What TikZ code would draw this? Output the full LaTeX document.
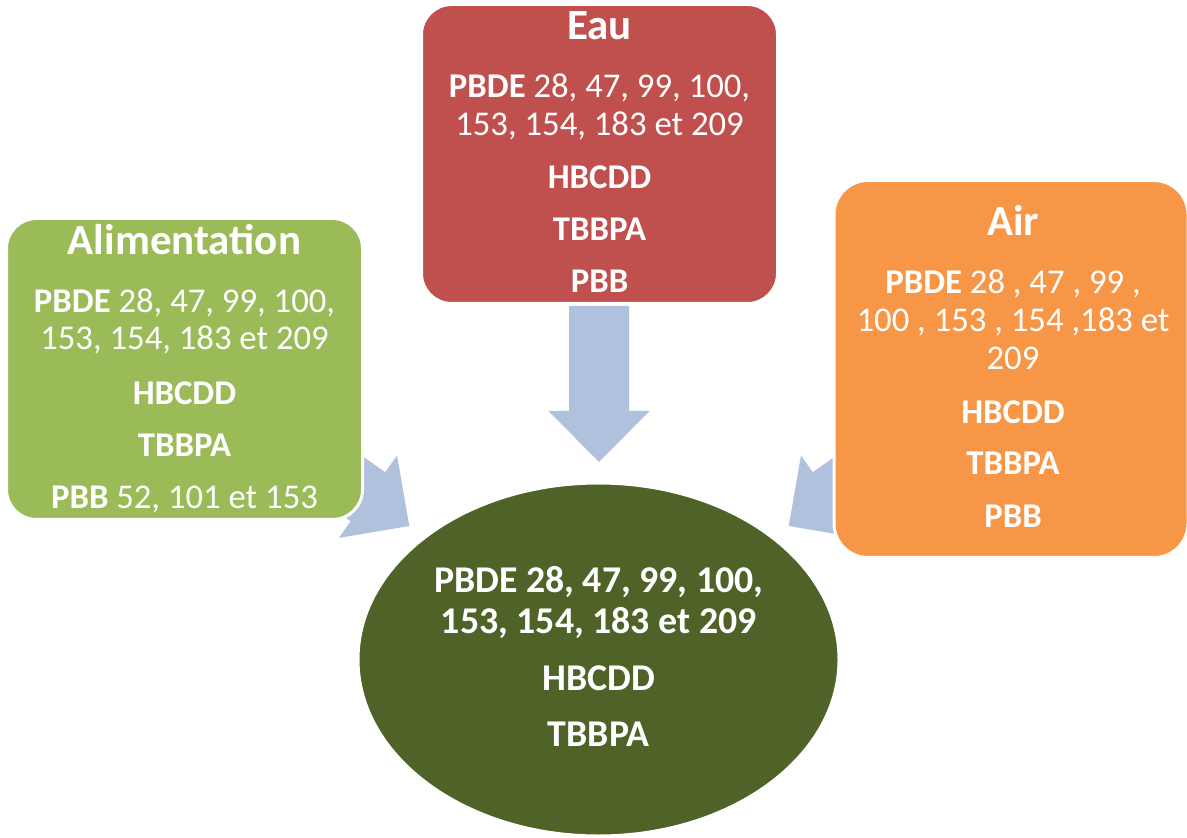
\documentclass[tikz,border=0pt]{standalone}
\usepackage{fontspec}
\setmainfont{Carlito}
\usetikzlibrary{shapes.geometric}
\definecolor{cgreen}{HTML}{9BBB59}
\definecolor{cred}{HTML}{C0504D}
\definecolor{corange}{HTML}{F79646}
\definecolor{colive}{HTML}{4F6228}
\definecolor{carrow}{HTML}{B0C1DD}
\tikzset{
  box/.style={rectangle, rounded corners=15pt, draw=white, line width=1.5pt, inner sep=0pt},
  bigarrow/.style={fill=carrow, draw=none},
  ttl/.style={text=white, anchor=base, inner sep=0pt, font=\fontsize{21.5}{25}\selectfont\bfseries},
  txt/.style={text=white, anchor=base, inner sep=0pt, font=\fontsize{17.35}{20}\selectfont},
  etxt/.style={text=white, anchor=base, inner sep=0pt, font=\fontsize{18.9}{22}\selectfont\bfseries},
}
\begin{document}
\begin{tikzpicture}[x=0.5pt, y=-0.5pt]
\useasboundingbox (0,0) rectangle (1187,838);
\fill[white] (0,0) rectangle (1187,838);

% arrows
\fill[bigarrow] (569,306) -- (629,306) -- (629,411) -- (649.5,411) -- (599,462) -- (548.5,411) -- (569,411) -- cycle;
\fill[bigarrow] (409.3,526) -- (397,455.5) -- (385.2,472.2) -- (300.3,412.2) -- (265.7,461.2) -- (350.6,521.2) -- (338.8,537.9) -- cycle;
\fill[bigarrow] (788.7,526) -- (801,455.5) -- (812.8,472.2) -- (897.7,412.2) -- (932.3,461.2) -- (847.4,521.2) -- (859.2,537.9) -- cycle;

% boxes
\node[box, fill=cgreen, minimum width=178pt, minimum height=150.5pt] (alim) at (184.5,369) {};
\node[box, fill=cred, minimum width=178pt, minimum height=149.5pt] (eau) at (599.5,154) {};
\node[box, fill=corange, rounded corners=17pt, minimum width=177pt, minimum height=188.5pt] (air) at (1011,369) {};
\node[ellipse, fill=colive, draw=white, line width=1.5pt, inner sep=0pt, minimum width=240.5pt, minimum height=176.5pt] (centre) at (598.5,659.5) {};

% Alimentation
\node[ttl] (a0) at (184.5,255) {Alimentation};
\node[txt] (a1) at (184.5,312.7) {\textbf{PBDE} 28, 47, 99, 100,};
\node[txt] (a2) at (184.5,350) {153, 154, 183 et 209};
\node[txt] (a3) at (184.5,405) {\textbf{HBCDD}};
\node[txt] (a4) at (184.5,456.7) {\textbf{TBBPA}};
\node[txt] (a5) at (184.5,508.3) {\textbf{PBB} 52, 101 et 153};

% Eau
\node[ttl] (e0) at (599.5,39.3) {Eau};
\node[txt] (e1) at (599.5,97.7) {\textbf{PBDE} 28, 47, 99, 100,};
\node[txt] (e2) at (599.5,136) {153, 154, 183 et 209};
\node[txt] (e3) at (599.5,188.3) {\textbf{HBCDD}};
\node[txt] (e4) at (599.5,240.7) {\textbf{TBBPA}};
\node[txt] (e5) at (599.5,292.7) {\textbf{PBB}};

% Air
\node[ttl] (r0) at (1013,236) {Air};
\node[txt] (r1) at (1013,293.3) {\textbf{PBDE} 28 , 47 , 99 ,};
\node[txt] (r2) at (1013,331.7) {100 , 153 , 154 ,183 et};
\node[txt] (r3) at (1013,370) {209};
\node[txt] (r4) at (1013,423.3) {\textbf{HBCDD}};
\node[txt] (r5) at (1013,475) {\textbf{TBBPA}};
\node[txt] (r6) at (1013,527.7) {\textbf{PBB}};

% centre
\node[etxt] (c1) at (598.7,592.7) {PBDE 28, 47, 99, 100,};
\node[etxt] (c2) at (598.7,633.3) {153, 154, 183 et 209};
\node[etxt] (c3) at (598.7,690) {HBCDD};
\node[etxt] (c4) at (598.7,746.7) {TBBPA};
\end{tikzpicture}
\end{document}
